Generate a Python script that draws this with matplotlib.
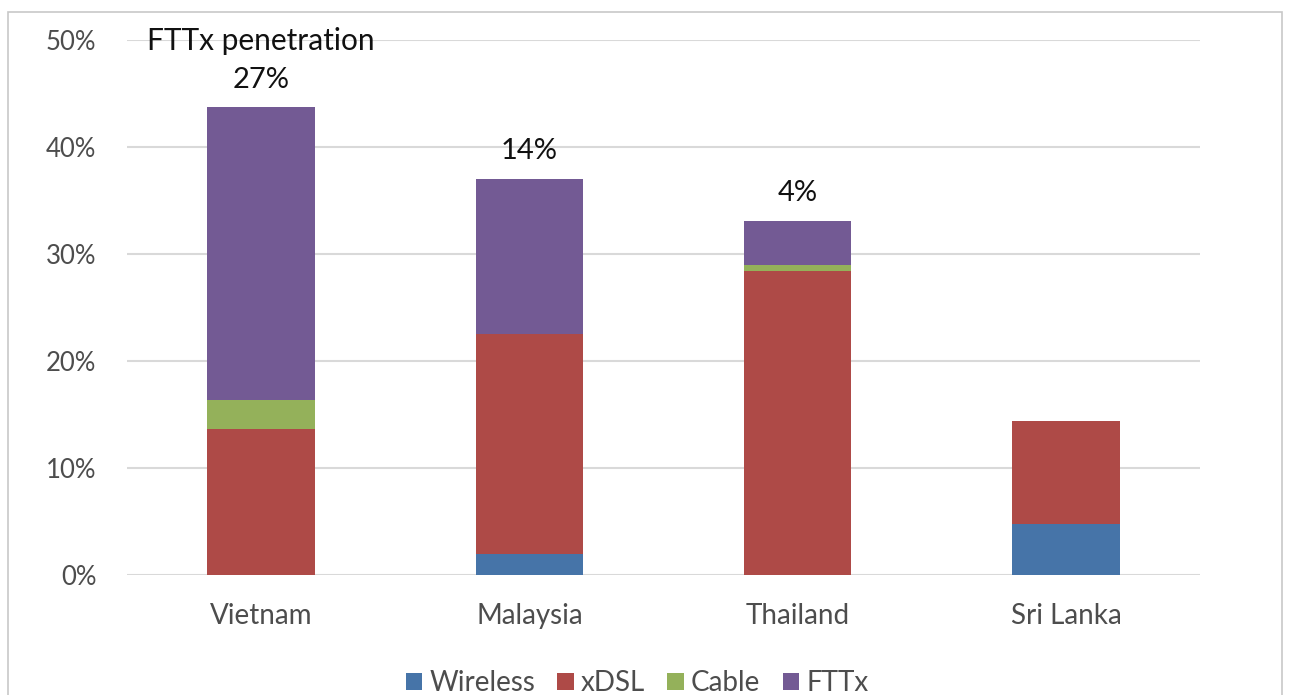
import numpy as np
import matplotlib.pyplot as plt
from matplotlib.patches import Rectangle

# data (share of households, %)
countries = ['Vietnam', 'Malaysia', 'Thailand', 'Sri Lanka']
wireless = [0.0, 2.0, 0.0, 4.8]
xdsl = [13.6, 20.5, 28.4, 9.6]
cable = [2.8, 0.0, 0.6, 0.0]
fttx = [27.3, 14.5, 4.1, 0.0]
fttx_labels = ['27%', '14%', '4%', '']

series = [('Wireless', wireless, '#4674a8'),
          ('xDSL', xdsl, '#ae4a47'),
          ('Cable', cable, '#94b15a'),
          ('FTTx', fttx, '#735a94')]

plt.rcParams['font.family'] = ['Lato', 'DejaVu Sans']

fig = plt.figure(figsize=(12.92, 6.95), dpi=100)
ax = fig.add_axes([0.0983, 0.1727, 0.8305, 0.7697])

x = np.arange(len(countries))
bottom = np.zeros(len(countries))
for name, vals, col in series:
    vals = np.array(vals)
    ax.bar(x, vals, 0.4, bottom=bottom, color=col, label=name, zorder=3)
    bottom += vals

# FTTx labels on top of each bar
for i, lab in enumerate(fttx_labels):
    if lab:
        ax.annotate(lab, xy=(x[i], bottom[i]), xytext=(0, 20), textcoords='offset points',
                    ha='center', va='center', fontsize=21, color='#111111')
ax.annotate('FTTx penetration', xy=(x[0], bottom[0]), xytext=(0, 48), textcoords='offset points',
            ha='center', va='center', fontsize=21.5, color='#111111', zorder=5)

ax.set_xlim(-0.5, 3.5)
ax.set_ylim(0, 50)
ax.set_yticks(np.arange(0, 51, 10))
ax.set_yticklabels([f'{v}%' for v in range(0, 51, 10)])
ax.set_xticks(x)
ax.set_xticklabels(countries)
ax.tick_params(length=0, labelsize=20, colors='#4d4d4d')
ax.tick_params(axis='y', pad=22, labelsize=18.5)
ax.tick_params(axis='x', pad=20)
ax.yaxis.grid(True, color='#d9d9d9', lw=1.5, zorder=0)
for s in ax.spines.values():
    s.set_visible(False)

fig.legend(loc='center', bbox_to_anchor=(0.493, 0.017), ncol=4, frameon=False,
           fontsize=20, handlelength=0.6, handleheight=0.6, handletextpad=0.25,
           columnspacing=0.8, labelcolor='#4d4d4d')

# outer chart frame
fig.patches.append(Rectangle((8 / 1292, -0.05), 1274 / 1292, 1.05 - 12 / 695,
                             transform=fig.transFigure, fill=False,
                             edgecolor='#c8c8c8', lw=1.2))

fig.savefig('out.png', dpi=100)
